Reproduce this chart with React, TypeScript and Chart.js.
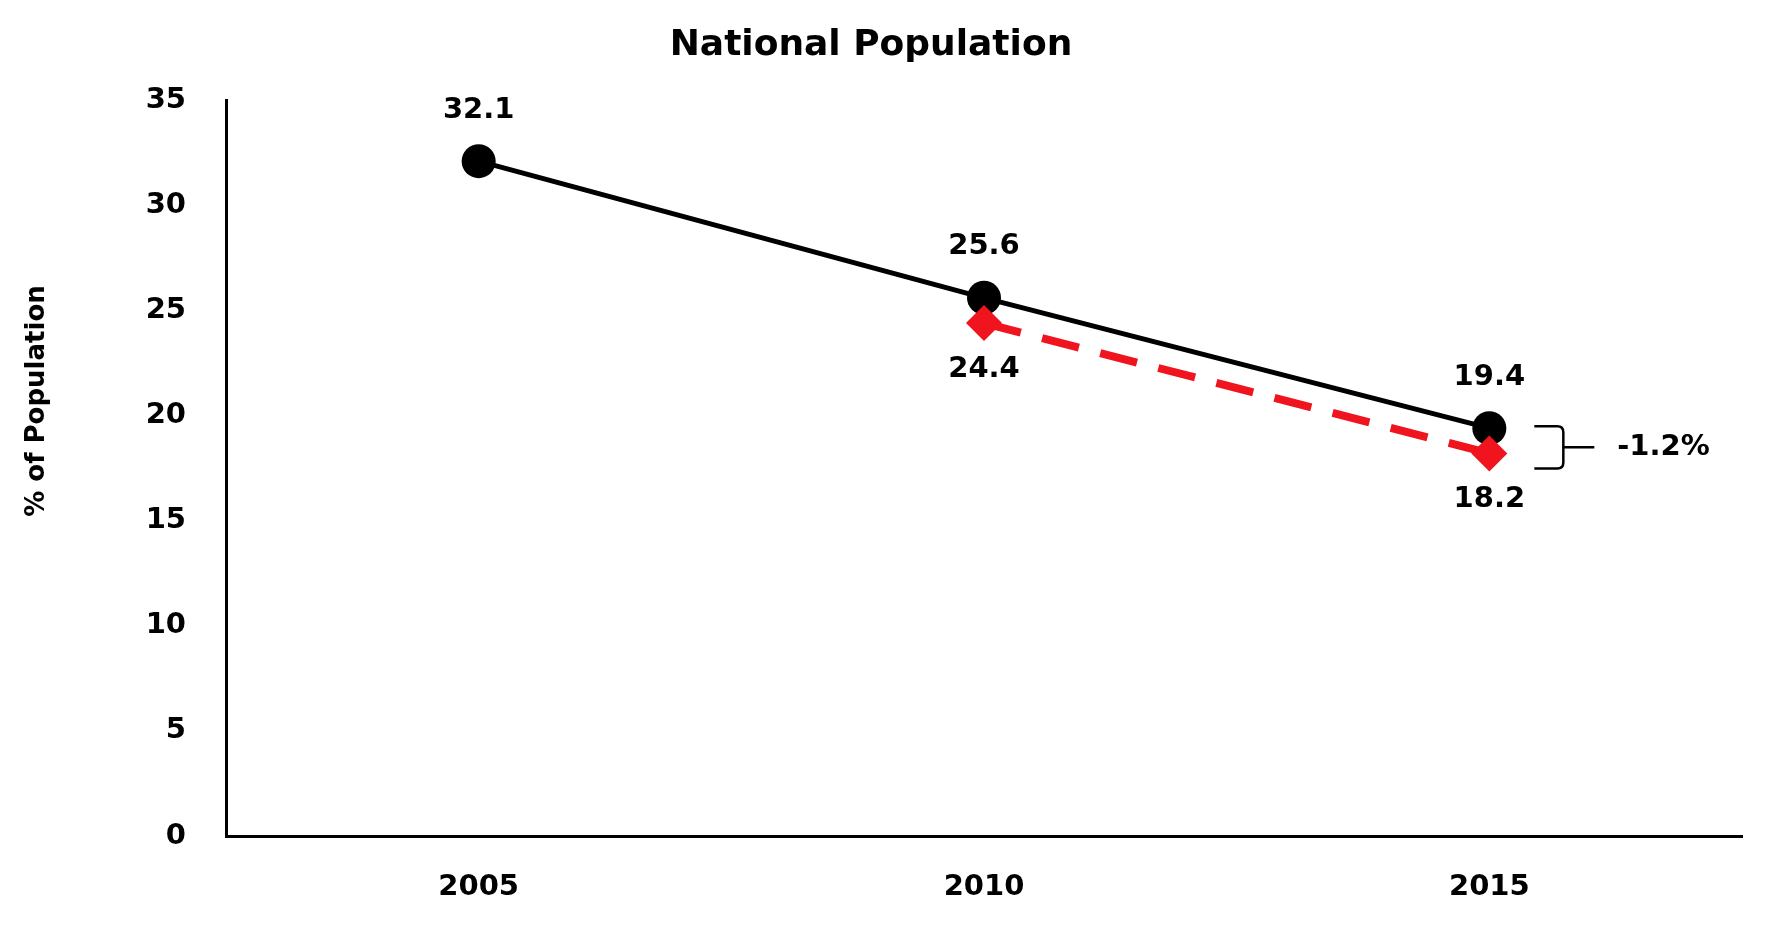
import React, { useEffect, useRef } from "react";
import { Chart, registerables } from "chart.js";

Chart.register(...registerables);

const years = ["2005", "2010", "2015"];
const nationalSeries = [32.1, 25.6, 19.4];
const comparisonSeries = [null, 24.4, 18.2];
const yTicksMax = 35;
const yTicksStep = 5;
const chartTitle = "National Population";
const yAxisTitle = "% of Population";

const FONT = "'DejaVu Sans', Verdana, sans-serif";

const labelPlugin = {
  id: "valueLabels",
  afterDatasetsDraw(chart: any) {
    const ctx = chart.ctx;
    ctx.save();
    ctx.font = `bold 29px ${FONT}`;
    ctx.fillStyle = "#000";
    ctx.textAlign = "center";
    ctx.textBaseline = "middle";
    chart.data.datasets.forEach((ds: any, di: number) => {
      const meta = chart.getDatasetMeta(di);
      meta.data.forEach((pt: any, i: number) => {
        const v = ds.data[i];
        if (v === null || v === undefined) return;
        const dy = ds.labelBelow ? 46 : -51;
        ctx.fillText(v.toFixed(1), pt.x, pt.y + dy);
      });
    });

    // bracket showing difference at last category
    const last = years.length - 1;
    const a = nationalSeries[last];
    const b = comparisonSeries[last] as number;
    const xs = chart.scales.x;
    const ys = chart.scales.y;
    const px = xs.getPixelForValue(last);
    const yTop = ys.getPixelForValue(a) - 2;
    const yBot = ys.getPixelForValue(b) + 15;
    const yMid = (yTop + yBot) / 2;
    const x0 = px + 45;
    const x1 = px + 74;
    const x2 = px + 105;
    const r = 6;
    ctx.strokeStyle = "#000";
    ctx.lineWidth = 2.5;
    ctx.beginPath();
    ctx.moveTo(x0, yTop);
    ctx.lineTo(x1 - r, yTop);
    ctx.quadraticCurveTo(x1, yTop, x1, yTop + r);
    ctx.lineTo(x1, yBot - r);
    ctx.quadraticCurveTo(x1, yBot, x1 - r, yBot);
    ctx.lineTo(x0, yBot);
    ctx.stroke();
    ctx.beginPath();
    ctx.moveTo(x1, yMid);
    ctx.lineTo(x2, yMid);
    ctx.stroke();
    ctx.font = `bold 29px ${FONT}`;
    ctx.textAlign = "left";
    ctx.fillText(`${(b - a).toFixed(1)}%`, px + 128, yMid);

    // y axis title
    ctx.save();
    ctx.translate(37, 401);
    ctx.rotate(-Math.PI / 2);
    ctx.font = `bold 26px ${FONT}`;
    ctx.textAlign = "center";
    ctx.textBaseline = "middle";
    ctx.fillText(yAxisTitle, 0, 0);
    ctx.restore();

    ctx.restore();
  },
};

export default function App() {
  const ref = useRef<HTMLCanvasElement | null>(null);

  useEffect(() => {
    if (!ref.current) return;
    const chart = new Chart(ref.current, {
      type: "line",
      data: {
        labels: years,
        datasets: [
          {
            label: "Comparison",
            data: comparisonSeries,
            borderColor: "#F0141E",
            backgroundColor: "#F0141E",
            borderWidth: 8,
            borderDash: [38, 22],
            pointStyle: "rectRot",
            pointRadius: 18,
            pointBorderWidth: 0,
            pointBackgroundColor: "#F0141E",
            order: 0,
            labelBelow: true,
          } as any,
          {
            label: "National",
            data: nationalSeries,
            borderColor: "#000",
            backgroundColor: "#000",
            borderWidth: 5,
            pointStyle: "circle",
            pointRadius: 17,
            pointBorderWidth: 0,
            pointBackgroundColor: "#000",
            order: 1,
          } as any,
        ],
      },
      options: {
        animation: false,
        responsive: true,
        maintainAspectRatio: false,
        layout: { padding: { left: 0, right: 23, top: 0, bottom: 0 } },
        plugins: {
          legend: { display: false },
          tooltip: { enabled: false },
          title: {
            display: true,
            text: chartTitle,
            color: "#000",
            font: { family: FONT, size: 36, weight: "bold" },
            padding: { top: 24, bottom: 33 },
          },
        },
        scales: {
          x: {
            offset: true,
            grid: { display: false },
            border: { display: true, color: "#000", width: 3 },
            ticks: {
              color: "#000",
              padding: 26,
              font: { family: FONT, size: 29, weight: "bold" },
            },
            afterFit: (s: any) => {
              s.height = 116;
            },
          },
          y: {
            min: 0,
            max: yTicksMax,
            grid: { display: false },
            border: { display: true, color: "#000", width: 3 },
            ticks: {
              stepSize: yTicksStep,
              color: "#000",
              padding: 32,
              font: { family: FONT, size: 29, weight: "bold" },
            },
            afterFit: (s: any) => {
              s.width = 226;
            },
          },
        },
      },
      plugins: [labelPlugin],
    });
    return () => chart.destroy();
  }, []);

  return (
    <div style={{ position: "absolute", left: 0, top: 0, width: 1765, height: 952, background: "#fff" }}>
      <canvas ref={ref} />
    </div>
  );
}
